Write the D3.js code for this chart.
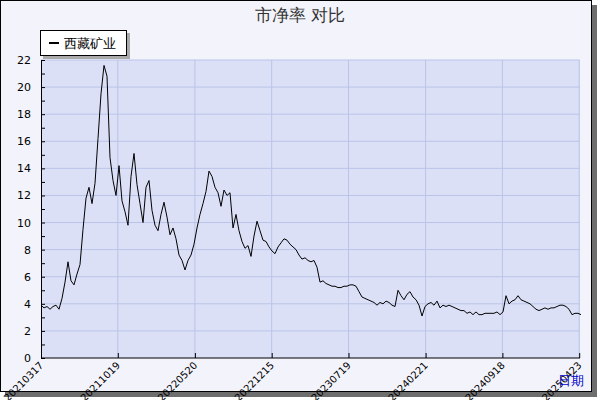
<!DOCTYPE html>
<html><head><meta charset="utf-8">
<script src="https://cdn.jsdelivr.net/npm/d3@7"></script>
<style>body{margin:0;background:#fff}svg text{font-family:"DejaVu Sans",sans-serif}</style>
</head><body><div id="chart"></div>
<script>
// values, one per ~3px
const pbValues = [
  3.9,3.7,3.8,3.6,3.8,3.9,3.6,4.4,5.6,7.1,
  5.7,5.4,6.2,6.9,9.5,11.8,12.6,11.4,12.9,16.2,
  19.5,21.6,20.8,14.8,13.1,12.0,14.2,11.6,10.8,9.8,
  13.4,15.1,12.8,11.4,10.0,12.6,13.1,10.9,9.8,9.4,
  10.6,11.5,10.4,9.1,9.6,8.8,7.6,7.2,6.5,7.2,
  7.6,8.4,9.6,10.6,11.4,12.3,13.8,13.4,12.6,12.2,
  11.2,12.4,12.0,12.2,9.6,10.6,9.4,8.6,8.1,8.3,
  7.5,9.0,10.1,9.4,8.7,8.6,8.2,7.9,7.7,8.2,
  8.5,8.8,8.7,8.4,8.2,8.0,7.6,7.3,7.4,7.2,
  7.1,7.2,6.7,5.6,5.7,5.5,5.4,5.3,5.3,5.2,
  5.2,5.3,5.3,5.4,5.4,5.3,4.9,4.5,4.4,4.3,
  4.2,4.1,3.9,4.1,4.0,4.2,4.1,3.9,3.8,5.0,
  4.6,4.3,4.7,4.9,4.5,4.3,3.9,3.1,3.8,4.0,
  4.1,3.9,4.2,3.7,3.9,3.8,3.9,3.8,3.7,3.6,
  3.5,3.5,3.3,3.4,3.2,3.4,3.2,3.2,3.3,3.3,
  3.3,3.3,3.4,3.2,3.4,4.6,4.0,4.2,4.3,4.6,
  4.3,4.2,4.1,4.0,3.8,3.6,3.5,3.6,3.7,3.6,
  3.7,3.7,3.8,3.9,3.9,3.8,3.6,3.2,3.3,3.3,3.2
];
const xTickPos = [0, 25.6, 51.3, 76.9, 102.5, 128.2, 153.8, 179.4];
const xTickLabels = ["20210317","20211019","20220520","20221215","20230719","20240221","20240918","20250423"];
const yTicks = [0,2,4,6,8,10,12,14,16,18,20,22];
const seriesName = "西藏矿业";

const W = 600, H = 400;
const svg = d3.select("#chart").append("svg").attr("width", W).attr("height", H);

// shadow + frame
svg.append("rect").attr("x", 5).attr("y", 5).attr("width", 592).attr("height", 392).attr("fill", "#6e6e6e");
svg.append("rect").attr("x", 0.5).attr("y", 0.5).attr("width", 591).attr("height", 391)
  .attr("fill", "#f3f4fb").attr("stroke", "#000");

const pLeft = 41, pRight = 580, pTop = 60, pBottom = 358;
const x = d3.scaleLinear().domain([0, 180]).range([pLeft, 581]);
const y = d3.scaleLinear().domain([0, 22]).range([pBottom, pTop]);

svg.append("rect").attr("x", pLeft).attr("y", pTop).attr("width", pRight - pLeft).attr("height", pBottom - pTop)
  .attr("fill", "#dbe0f6");

// grid
svg.append("g").selectAll("line").data(yTicks.slice(1)).join("line")
  .attr("x1", pLeft).attr("x2", pRight).attr("y1", d => y(d)).attr("y2", d => y(d))
  .attr("stroke", "#b9c4e8");
svg.append("g").selectAll("line").data(xTickPos.slice(1)).join("line")
  .attr("x1", d => x(d)).attr("x2", d => x(d)).attr("y1", pTop).attr("y2", pBottom)
  .attr("stroke", "#b9c4e8");

// y axis with inward ticks
const yAxis = svg.append("g").attr("transform", `translate(${pLeft},0)`)
  .call(d3.axisRight(y).tickValues(d3.range(0, 23, 1)).tickSize(4).tickFormat(""));
yAxis.select(".domain").attr("stroke", "#000");
svg.append("g").selectAll("text").data(yTicks).join("text")
  .attr("x", 31).attr("y", d => y(d) + 4).attr("text-anchor", "end")
  .attr("font-size", 11).text(d => d);

// x axis
const xAxis = svg.append("g").attr("transform", `translate(0,${pBottom})`)
  .call(d3.axisTop(x).tickValues(xTickPos).tickSize(5).tickFormat(""));
xAxis.select(".domain").attr("d", `M${pLeft},0H${pRight}`).attr("stroke", "#000");
svg.append("g").selectAll("text").data(xTickPos).join("text")
  .attr("transform", (d) => `translate(${x(d) + 3},${pBottom + 8}) rotate(-45)`)
  .attr("text-anchor", "end").attr("font-size", 10).text((d, i) => xTickLabels[i]);

// line
svg.append("path").datum(pbValues)
  .attr("d", d3.line().x((d, i) => x(i)).y(d => y(d)))
  .attr("fill", "none").attr("stroke", "#000").attr("stroke-width", 1);

// title
svg.append("text").attr("x", 300).attr("y", 21).attr("text-anchor", "middle")
  .attr("font-size", 17).attr("fill", "#333").text("市净率  对比");

// legend
svg.append("rect").attr("x", 43).attr("y", 33).attr("width", 87).attr("height", 26).attr("fill", "#aaa");
svg.append("rect").attr("x", 40.5).attr("y", 30.5).attr("width", 86).attr("height", 25)
  .attr("fill", "#fff").attr("stroke", "#000");
svg.append("line").attr("x1", 49).attr("x2", 59).attr("y1", 43).attr("y2", 43).attr("stroke", "#000").attr("stroke-width", 2);
svg.append("text").attr("x", 64).attr("y", 48).attr("font-size", 13).text(seriesName);

// axis title
svg.append("text").attr("x", 558).attr("y", 385).attr("font-size", 13).attr("fill", "#0000cc").text("日期");
</script></body></html>
